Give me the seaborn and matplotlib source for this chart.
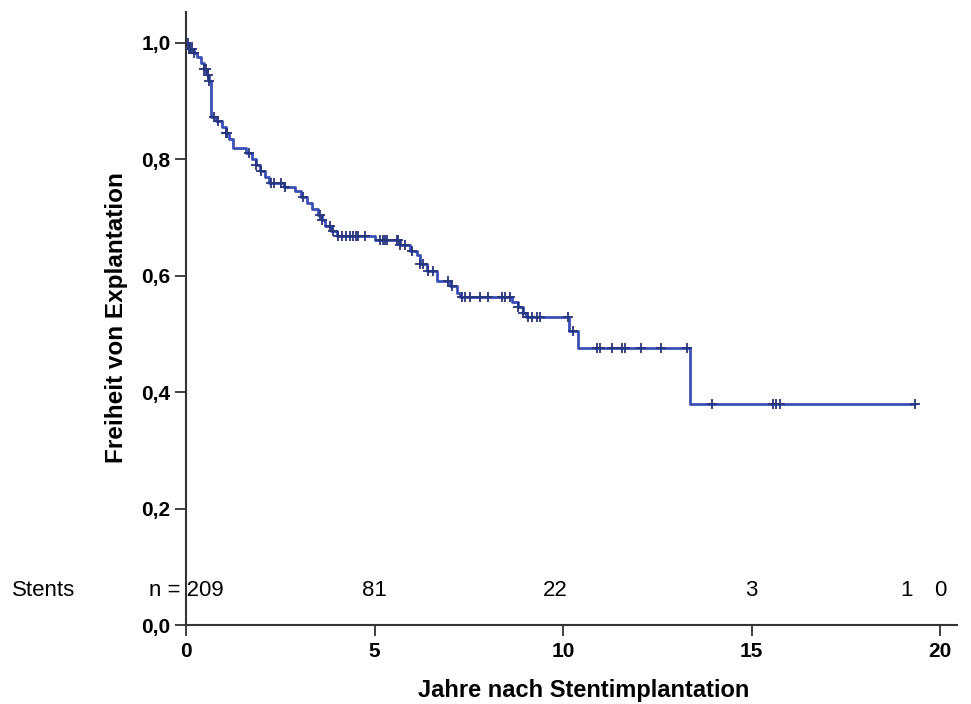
import numpy as np
import pandas as pd
import matplotlib
matplotlib.use("Agg")
import matplotlib.pyplot as plt
import seaborn as sns

# Kaplan-Meier steps: time (years) and survival after each event
event_times = [0.0, 0.08, 0.2, 0.3, 0.4, 0.47, 0.55, 0.6, 0.65, 0.8, 0.95, 1.05, 1.15,
               1.25, 1.6, 1.75, 1.85, 1.95, 2.1, 2.2, 2.6, 2.9, 3.05, 3.2, 3.35, 3.5,
               3.6, 3.7, 3.85, 4.0, 5.01, 5.68, 5.94, 6.13, 6.2, 6.39, 6.66, 7.0, 7.19,
               7.27, 8.65, 8.8, 8.93, 9.03, 10.15, 10.4, 13.37]
survival = [1.0, 0.99, 0.983, 0.975, 0.965, 0.955, 0.945, 0.935, 0.872, 0.865, 0.855,
            0.845, 0.835, 0.82, 0.81, 0.8, 0.79, 0.78, 0.77, 0.76, 0.752, 0.745, 0.735,
            0.725, 0.715, 0.705, 0.695, 0.685, 0.676, 0.668, 0.661, 0.652, 0.643, 0.636,
            0.62, 0.608, 0.591, 0.582, 0.57, 0.564, 0.555, 0.546, 0.536, 0.529, 0.505,
            0.476, 0.38]
last_followup = 19.34

# Censored observations (years)
censor_times = [0.05, 0.08, 0.1, 0.16, 0.22, 0.48, 0.53, 0.58, 0.62, 0.74, 0.84, 1.06,
                1.1, 1.67, 1.86, 1.99, 2.25, 2.33, 2.52, 2.63, 3.1, 3.55, 3.62, 3.82, 3.9,
                4.03, 4.14, 4.24, 4.35, 4.43, 4.51, 4.56, 4.75, 5.15, 5.23, 5.28, 5.33,
                5.6, 5.62, 5.68, 5.81, 6.0, 6.2, 6.29, 6.42, 6.55, 6.95, 7.06, 7.32, 7.4,
                7.53, 7.8, 8.01, 8.38, 8.46, 8.59, 8.81, 8.94, 9.07, 9.18, 9.31, 9.39,
                10.13, 10.27, 10.9, 10.98, 11.3, 11.56, 11.64, 12.08, 12.6, 13.3, 13.95,
                15.57, 15.65, 15.75, 19.34]

# Number at risk
risk_labels = ["n = 209", "81", "22", "3", "1", "0"]
risk_x = [0.0, 5.0, 9.8, 15.0, 19.1, 20.0]

steps = pd.DataFrame({"t": event_times + [last_followup],
                      "s": survival + [survival[-1]]})


def surv_at(t):
    idx = np.searchsorted(event_times, t, side="right") - 1
    return survival[max(idx, 0)]


cens = pd.DataFrame({"t": censor_times, "s": [surv_at(t) for t in censor_times]})

sns.set_theme(style="white")
plt.rcParams["font.family"] = ["Liberation Sans", "DejaVu Sans"]

fig = plt.figure(figsize=(9.71, 7.04), dpi=100)
ax = fig.add_axes([186 / 971, 79 / 704, 771 / 971, 613 / 704])

line_col = "#3a4fb5"
mark_col = "#27347e"
sns.lineplot(data=steps, x="t", y="s", drawstyle="steps-post", color=line_col,
             linewidth=2.0, ax=ax, estimator=None, sort=False)
sns.scatterplot(data=cens, x="t", y="s", marker="+", s=60, color=mark_col,
                linewidth=1.3, ax=ax, zorder=3)

ax.set_xlim(0, 20.45)
ax.set_ylim(0, 1.053)
ax.set_xticks([0, 5, 10, 15, 20])
ax.set_yticks([0, 0.2, 0.4, 0.6, 0.8, 1.0])
ax.set_xticklabels(["0", "5", "10", "15", "20"])
ax.set_yticklabels(["0,0", "0,2", "0,4", "0,6", "0,8", "1,0"])

for side in ("top", "right"):
    ax.spines[side].set_visible(False)
for side in ("left", "bottom"):
    ax.spines[side].set_color("#333333")
    ax.spines[side].set_linewidth(1.5)

ax.tick_params(axis="both", which="major", direction="out", length=8, width=1.3,
               color="#333333", labelsize=15, labelcolor="black",
               left=True, bottom=True)
ax.tick_params(axis="x", pad=4)
ax.tick_params(axis="y", pad=3)
for lab in ax.get_xticklabels() + ax.get_yticklabels():
    lab.set_fontweight("bold")

ax.set_xlabel("Jahre nach Stentimplantation", fontsize=17, fontweight="bold",
              color="black")
ax.set_ylabel("Freiheit von Explantation", fontsize=17.5, fontweight="bold",
              color="black")
ax.xaxis.set_label_coords(0.516, -0.088)
ax.yaxis.set_label_coords(-0.075, 0.502)

# Number-at-risk row
y_risk = 0.06
ax.text(-0.2257, y_risk, "Stents", transform=ax.get_yaxis_transform(),
        fontsize=16, ha="left", va="center", color="black", clip_on=False)
for lbl, xp in zip(risk_labels, risk_x):
    ax.text(xp, y_risk, lbl, fontsize=16, ha="center", va="center",
            color="black", clip_on=False)

fig.savefig("out.png", dpi=100, facecolor="white")
